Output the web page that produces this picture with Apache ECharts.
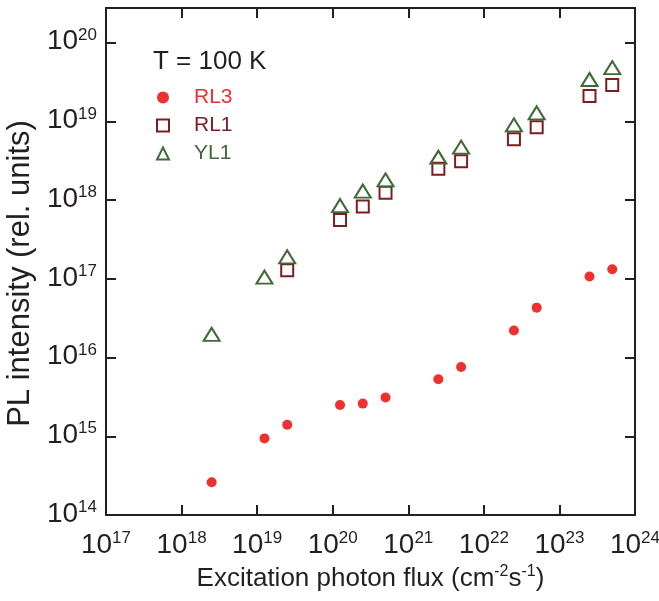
<!DOCTYPE html>
<html>
<head>
<meta charset="utf-8">
<script src="https://cdn.jsdelivr.net/npm/echarts@6/dist/echarts.min.js"></script>
<style>
  html, body { margin: 0; padding: 0; background: #fff; }
  #main { width: 659px; height: 601px; }
</style>
</head>
<body>
<div id="main"></div>
<script>
var font = 'Liberation Sans, Arial, sans-serif';
var ink = '#231f20';

// excitation photon flux (cm^-2 s^-1)
var fluxRL3 = [2.5e18, 1.25e19, 2.5e19, 1.25e20, 2.5e20, 5e20, 2.5e21, 5e21, 2.5e22, 5e22, 2.5e23, 5e23];
var pl_RL3 = [2.6e14, 9.4e14, 1.4e15, 2.5e15, 2.6e15, 3.1e15, 5.3e15, 7.6e15, 2.2e16, 4.3e16, 1.07e17, 1.32e17];

var fluxRL1 = [2.5e19, 1.25e20, 2.5e20, 5e20, 2.5e21, 5e21, 2.5e22, 5e22, 2.5e23, 5e23];
var pl_RL1 = [1.28e17, 5.6e17, 8.3e17, 1.24e18, 2.5e18, 3.1e18, 5.9e18, 8.4e18, 2.1e19, 2.9e19];

var fluxYL1 = [2.5e18, 1.25e19, 2.5e19, 1.25e20, 2.5e20, 5e20, 2.5e21, 5e21, 2.5e22, 5e22, 2.5e23, 5e23];
var pl_YL1 = [1.97e16, 1.05e17, 1.9e17, 8.5e17, 1.3e18, 1.8e18, 3.5e18, 4.7e18, 9.0e18, 1.28e19, 3.4e19, 4.8e19];

var colRL3 = '#ee3030';
var colRL1 = '#7e1d20';
var colYL1 = '#3f6a37';

function pairs(xs, ys) {
  return xs.map(function (x, i) { return [x, ys[i]]; });
}

// "10^n" labels
function powLabel(v) {
  var e = Math.log10(v);
  var n = Math.round(e);
  if (Math.abs(e - n) > 1e-6) return '';
  return '{b|10}{s|' + n + '}';
}

var labelRich = {
  b: { fontFamily: font, fontSize: 28, color: ink, lineHeight: 30 },
  s: { fontFamily: font, fontSize: 17, color: ink, lineHeight: 17, verticalAlign: 'top' }
};

var tick = { show: true, inside: true, length: 10, lineStyle: { color: ink, width: 2 } };
var line = { show: true, lineStyle: { color: ink, width: 2 } };

var chartDom = document.getElementById('main');
var myChart = echarts.init(chartDom);
var option;

option = {
  animation: false,
  title: {
    text: 'T = 100 K',
    left: 148,
    top: 44,
    textStyle: { fontFamily: font, fontSize: 26, fontWeight: 'normal', color: ink }
  },
  legend: {
    orient: 'vertical',
    left: 156,
    top: 87,
    padding: 0,
    itemWidth: 12,
    itemHeight: 12,
    itemGap: 7,
    textStyle: { fontFamily: font, fontSize: 21, padding: [0, 0, 0, 20] },
    data: [
      { name: 'RL3', textStyle: { color: colRL3 } },
      { name: 'RL1', textStyle: { color: colRL1 } },
      { name: 'YL1', textStyle: { color: colYL1 } }
    ]
  },
  grid: { left: 106, right: 24, top: 8, bottom: 86, outerBoundsMode: 'none' },
  xAxis: [
    {
      type: 'log',
      logBase: 10,
      min: 1e17,
      max: 1e24,
      name: 'Excitation photon flux (cm{s|-2}s{s|-1})',
      nameLocation: 'middle',
      nameGap: 47,
      nameTextStyle: {
        fontFamily: font, fontSize: 26, color: ink, lineHeight: 30,
        rich: { s: { fontFamily: font, fontSize: 16, color: ink, lineHeight: 16, verticalAlign: 'top' } }
      },
      axisLine: line,
      axisTick: tick,
      splitLine: { show: false },
      axisLabel: { margin: 15, formatter: powLabel, rich: labelRich }
    },
    {
      type: 'log',
      logBase: 10,
      min: 1e17,
      max: 1e24,
      position: 'top',
      axisLine: line,
      axisTick: tick,
      splitLine: { show: false },
      axisLabel: { show: false }
    }
  ],
  yAxis: [
    {
      type: 'log',
      logBase: 10,
      min: 1e14,
      max: 2.75e20,
      name: 'PL intensity (rel. units)',
      nameLocation: 'middle',
      nameGap: 69,
      nameTextStyle: { fontFamily: font, fontSize: 31, color: ink, padding: [0, 24, 0, 0] },
      axisLine: line,
      axisTick: tick,
      splitLine: { show: false },
      axisLabel: { margin: 9, formatter: powLabel, rich: labelRich, showMaxLabel: false, padding: [0, 0, 2, 0] }
    },
    {
      type: 'log',
      logBase: 10,
      min: 1e14,
      max: 2.75e20,
      position: 'right',
      axisLine: line,
      axisTick: tick,
      splitLine: { show: false },
      axisLabel: { show: false }
    }
  ],
  series: [
    {
      name: 'RL3',
      type: 'scatter',
      symbol: 'circle',
      symbolSize: 10,
      itemStyle: { color: colRL3, opacity: 1 },
      emphasis: { disabled: true },
      data: pairs(fluxRL3, pl_RL3)
    },
    {
      name: 'RL1',
      type: 'scatter',
      symbol: 'rect',
      symbolSize: 12,
      itemStyle: { color: 'rgba(255,255,255,0)', borderColor: colRL1, borderWidth: 2, opacity: 1 },
      emphasis: { disabled: true },
      data: pairs(fluxRL1, pl_RL1)
    },
    {
      name: 'YL1',
      type: 'scatter',
      symbol: 'triangle',
      symbolSize: [16, 13],
      itemStyle: { color: 'rgba(255,255,255,0)', borderColor: colYL1, borderWidth: 2, opacity: 1 },
      emphasis: { disabled: true },
      data: pairs(fluxYL1, pl_YL1)
    }
  ]
};

option && myChart.setOption(option);
</script>
</body>
</html>
